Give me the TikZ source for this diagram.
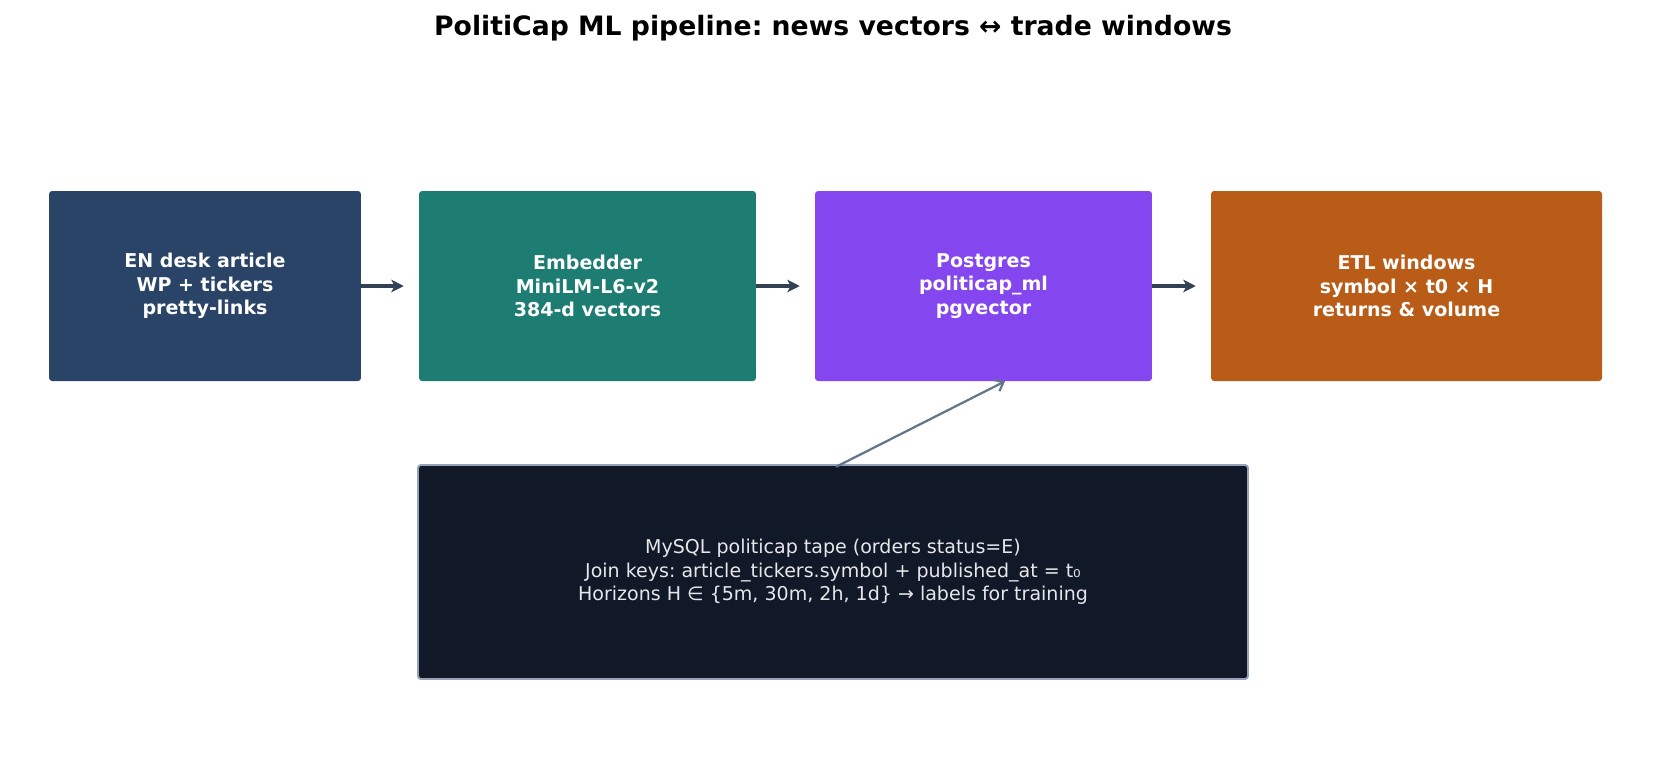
\documentclass[tikz,border=0pt]{standalone}
\usepackage{fontspec}
\setmainfont{DejaVu Sans}
\usetikzlibrary{arrows.meta,calc}
\frenchspacing
\definecolor{cA}{HTML}{2A4467}
\definecolor{cB}{HTML}{1E7D73}
\definecolor{cC}{HTML}{8446EE}
\definecolor{cD}{HTML}{B85C17}
\definecolor{cArr}{HTML}{334155}
\definecolor{cArr2}{HTML}{64748B}
\definecolor{cBord}{HTML}{94A3B8}
\definecolor{cDark}{HTML}{111827}
\definecolor{cTxt}{HTML}{E5E7EB}
\begin{document}
\begin{tikzpicture}[x=0.72pt,y=-0.72pt,
  stagebox/.style={rounded corners=2.2pt, minimum height=136.8pt, text=white,
    font=\fontsize{13.7}{16.9}\selectfont\bfseries, align=center, inner sep=0pt},
  flowarrow/.style={draw=cArr, line width=2.3pt, -{Stealth[length=9pt,width=9pt,inset=2.5pt]}, shorten >=10.8pt},
  notearrow/.style={draw=cArr2, line width=1.6pt, -{Straight Barb[length=5.5pt,width=9pt]}}
]
\useasboundingbox (0,0) rectangle (1666,756);
\node[font=\fontsize{19.2}{23}\selectfont\bfseries] (title) at (833,28.5) {PolitiCap ML pipeline: news vectors ↔ trade windows};

\node[stagebox, fill=cA, minimum width=224.6pt] (s1) at (205,286) {EN desk article\\WP + tickers\\pretty-links};
\node[stagebox, fill=cB, minimum width=242.6pt] (s2) at (587.5,286) {Embedder\\MiniLM-L6-v2\\384-d vectors};
\node[stagebox, fill=cC, minimum width=242.6pt] (s3) at (983.5,286) {Postgres\\politicap\_ml\\pgvector};
\node[stagebox, fill=cD, minimum width=281.5pt] (s4) at (1406.5,286) {ETL windows\\symbol × t0 × H\\returns \& volume};

\node[rounded corners=2.2pt, fill=cDark, draw=cBord, line width=1.4pt,
  minimum width=597.6pt, minimum height=154.1pt, text=cTxt, align=center, inner sep=0pt,
  font=\fontsize{13.7}{16.9}\selectfont] (tape) at (833,572)
  {MySQL politicap tape (orders status=E)\\Join keys: article\_tickers.symbol + published\_at = t₀\\Horizons H ∈ \{5m, 30m, 2h, 1d\} → labels for training};

\draw[flowarrow] (s1.east) -- (s2.west);
\draw[flowarrow] (s2.east) -- (s3.west);
\draw[flowarrow] (s3.east) -- (s4.west);

\draw[notearrow] ([xshift=2.2pt,yshift=-2pt]tape.north) -- ([xshift=15.5pt]s3.south);
\end{tikzpicture}
\end{document}
